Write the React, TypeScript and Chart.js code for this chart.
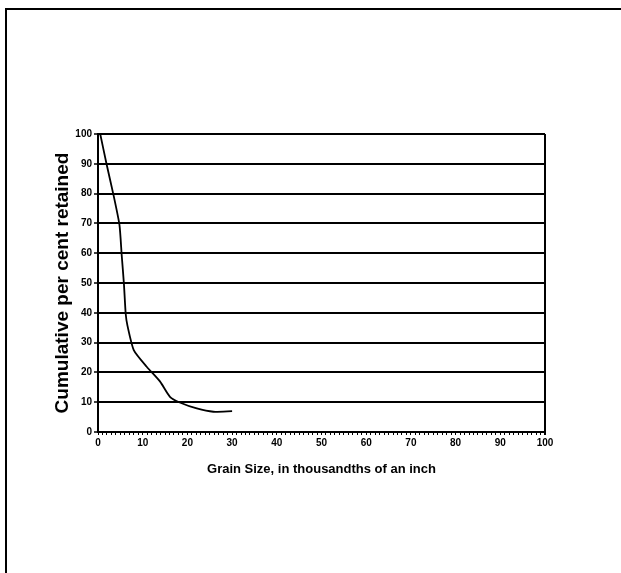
import React, { useEffect, useRef } from "react";
import { Chart, registerables } from "chart.js";

Chart.register(...registerables);

const grainSize = [0.5, 1.9, 3.4, 4.8, 5.3, 5.8, 6.2, 6.6, 8.0, 10.9, 13.9, 16.1, 18.3, 22.1, 25.8, 30];
const percentRetained = [100, 90, 80, 69.5, 59.4, 49.7, 39.6, 35.6, 27.5, 21.9, 16.9, 11.8, 9.9, 7.9, 6.8, 7];
const xTitle = "Grain Size, in thousandths of an inch";
const yTitle = "Cumulative per cent retained";
const xMin = 0;
const xMax = 100;
const yMin = 0;
const yMax = 100;

export default function App() {
  const ref = useRef<HTMLCanvasElement | null>(null);

  useEffect(() => {
    if (!ref.current) return;
    const points = grainSize.map((x, i) => ({ x, y: percentRetained[i] }));
    const tickFont = { family: "'Liberation Sans', Arial, sans-serif", size: 10, weight: "bold" as const };
    const chart = new Chart(ref.current, {
      type: "line",
      data: {
        datasets: [
          {
            data: points,
            borderColor: "#000",
            borderWidth: 1.8,
            pointRadius: 0,
            tension: 0.2,
            fill: false,
          },
        ],
      },
      options: {
        animation: false,
        responsive: false,
        events: [],
        layout: { padding: { left: 47, right: 76, top: 134, bottom: 92 } },
        plugins: { legend: { display: false }, tooltip: { enabled: false } },
        scales: {
          x: {
            type: "linear",
            min: xMin,
            max: xMax,
            afterFit: (s: any) => {
              s.height = 49;
            },
            ticks: {
              stepSize: 1,
              autoSkip: false,
              maxRotation: 0,
              minRotation: 0,
              padding: 2,
              color: "#000",
              font: tickFont,
              callback: (v: any) => (Number(v) % 10 === 0 ? String(v) : ""),
            },
            grid: {
              drawOnChartArea: true,
              drawTicks: true,
              tickLength: 3,
              color: (c: any) => (c.tick && c.tick.value === 100 ? "#000" : "rgba(0,0,0,0)"),
              tickColor: "#000",
              lineWidth: (c: any) => (c.tick && c.tick.value === 100 ? 2 : 1),
            },
            border: { display: true, color: "#000", width: 2 },
            title: {
              display: true,
              text: xTitle,
              color: "#000",
              padding: { top: 4, bottom: 4 },
              font: { family: "'Liberation Sans', Arial, sans-serif", size: 13, weight: "bold" },
            },
          },
          y: {
            type: "linear",
            min: yMin,
            max: yMax,
            afterFit: (s: any) => {
              s.width = 51;
            },
            ticks: {
              stepSize: 10,
              padding: 2,
              color: "#000",
              font: tickFont,
            },
            grid: {
              color: "#000",
              lineWidth: 2,
              tickLength: 4,
              tickColor: "#000",
              tickWidth: 1.5,
            },
            border: { display: true, color: "#000", width: 2 },
            title: {
              display: true,
              text: yTitle,
              color: "#000",
              padding: { top: 4, bottom: 4 },
              font: { family: "'Liberation Sans', Arial, sans-serif", size: 19, weight: "bold" },
            },
          },
        },
      },
    });
    return () => chart.destroy();
  }, []);

  return (
    <div style={{ position: "fixed", left: 0, top: 0, width: 621, height: 573, overflow: "hidden", background: "#fff" }}>
      <div
        style={{
          position: "absolute",
          left: 5,
          top: 8,
          width: 700,
          height: 700,
          borderLeft: "2px solid #000",
          borderTop: "2px solid #000",
        }}
      />
      <canvas ref={ref} width={621} height={573} style={{ position: "absolute", left: 0, top: 0, display: "block" }} />
    </div>
  );
}
